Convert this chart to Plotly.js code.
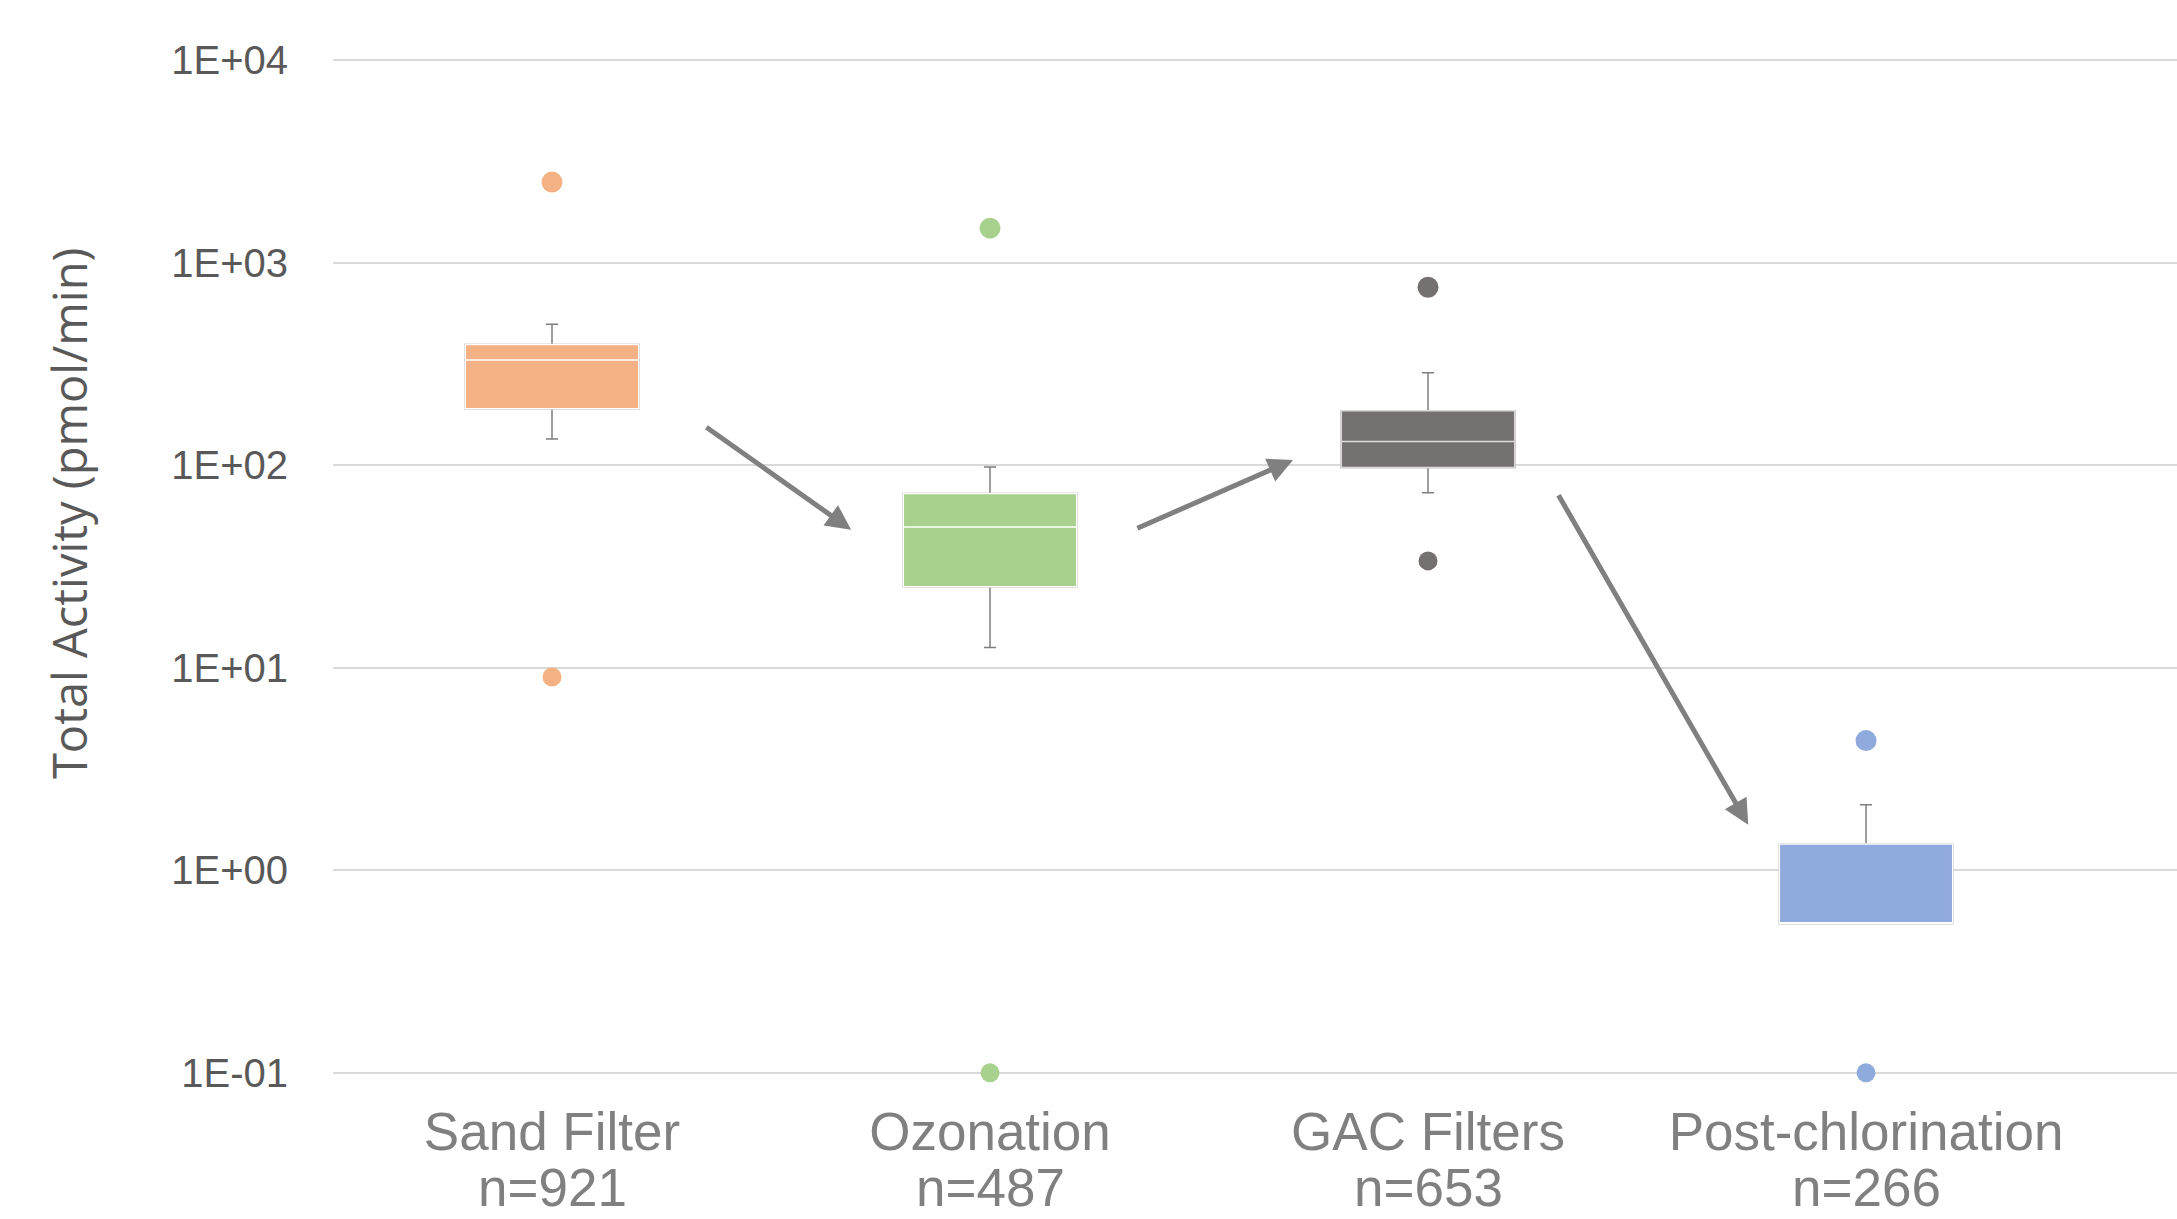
<!DOCTYPE html>
<html>
<head>
<meta charset="utf-8">
<script src="https://cdn.plot.ly/plotly-3.0.1.min.js"></script>
<style>
html,body{margin:0;padding:0;background:#ffffff;}
#chart{width:2177px;height:1219px;}
</style>
</head>
<body>
<div id="chart"></div>
<script>
// ---- data ----
const categories = ['Sand Filter', 'Ozonation', 'GAC Filters', 'Post-chlorination'];
const sampleSizes = ['n=921', 'n=487', 'n=653', 'n=266'];
const lowerWhisker = [134.6, 12.6, 73.1, 0.545];
const q1Values = [190, 25.1, 97.4, 0.545];
const medianValues = [331, 49.5, 131, 0.545];
const q3Values = [395, 72.6, 186, 1.35];
const upperWhisker = [497, 97.9, 286, 2.11];
const highOutliers = [2500, 1480, 756, 4.37];
const lowOutliers = [9.0, 0.1, 33.7, 0.1];
const yTickVals = [0.1, 1, 10, 100, 1000, 10000];
const yTickText = ['1E-01', '1E+00', '1E+01', '1E+02', '1E+03', '1E+04'];
const yTitle = 'Total Activity (pmol/min)';
// arrows between stages: [fromCategoryIndex, fromValue, toCategoryIndex, toValue]
const stageArrows = [
  [0.349, 156, 0.683, 48.0],
  [1.333, 48.5, 1.692, 106],
  [2.296, 72.3, 2.731, 1.68]
];

// ---- styles ----
const fillColors = ['#F4B183', '#A9D18E', '#767171', '#8FAADC'];
const medianColors = ['#ffffff', '#ffffff', '#d9d9d9', '#ffffff'];
const whiskerColor = '#7f7f7f';
const boxWidth = 0.396;
const catFont = {family: 'Liberation Sans, Arial, sans-serif', size: 53, color: '#808080'};

const traces = [];
categories.forEach((cat, i) => {
  // whiskers (gray)
  traces.push({
    type: 'box', x: [cat],
    q1: [q1Values[i]], median: [medianValues[i]], q3: [q3Values[i]],
    lowerfence: [lowerWhisker[i]], upperfence: [upperWhisker[i]],
    width: boxWidth, whiskerwidth: 0.07,
    fillcolor: 'rgba(0,0,0,0)',
    line: {color: whiskerColor, width: 1.5},
    boxpoints: false, hoverinfo: 'skip', showlegend: false
  });
  // filled box with light median line
  traces.push({
    type: 'box', x: [cat],
    q1: [q1Values[i]], median: [medianValues[i]], q3: [q3Values[i]],
    lowerfence: [q1Values[i]], upperfence: [q3Values[i]],
    width: boxWidth, whiskerwidth: 0,
    fillcolor: fillColors[i],
    line: {color: medianColors[i], width: 1.5},
    boxpoints: false, hoverinfo: 'skip', showlegend: false
  });
});
traces.push({
  type: 'scatter', mode: 'markers', x: categories, y: highOutliers,
  marker: {color: fillColors, size: 21}, hoverinfo: 'skip', showlegend: false
});
traces.push({
  type: 'scatter', mode: 'markers', x: categories, y: lowOutliers,
  marker: {color: fillColors, size: 19}, hoverinfo: 'skip', showlegend: false
});

const annotations = stageArrows.map(a => ({
  xref: 'x', yref: 'y', axref: 'x', ayref: 'y',
  x: a[2], y: Math.log10(a[3]), ax: a[0], ay: Math.log10(a[1]),
  text: '', showarrow: true, arrowhead: 2, arrowsize: 1, arrowwidth: 5,
  arrowcolor: '#808080', standoff: 0, startstandoff: 0
}));
// sample-size line under each category name
sampleSizes.forEach((s, i) => {
  annotations.push({
    xref: 'x', yref: 'paper', x: categories[i], y: 0,
    yanchor: 'middle', yshift: -104, showarrow: false, borderpad: 0,
    text: s, font: catFont
  });
});
// y axis title
annotations.push({
  xref: 'paper', yref: 'paper', x: 0, y: 0.5508, xshift: -264,
  xanchor: 'center', yanchor: 'middle', textangle: -90, showarrow: false,
  text: yTitle, font: {family: 'Open Sans, sans-serif', size: 47, color: '#595959'}
});

const layout = {
  width: 2177, height: 1219,
  margin: {l: 333, r: 0, t: 50, b: 136},
  paper_bgcolor: '#ffffff', plot_bgcolor: '#ffffff',
  showlegend: false,
  boxmode: 'overlay',
  xaxis: {
    type: 'category', range: [-0.5, 3.71],
    tickvals: categories, ticktext: categories,
    tickfont: catFont,
    showgrid: false, zeroline: false, showline: false, ticks: '',
    ticklabelstandoff: 13
  },
  yaxis: {
    type: 'log', range: [-1.05, 4.05],
    tickvals: yTickVals, ticktext: yTickText,
    tickfont: {family: 'Liberation Sans, Arial, sans-serif', size: 40, color: '#595959'},
    showgrid: true, gridcolor: '#d9d9d9', gridwidth: 2,
    zeroline: false, showline: false, ticks: '',
    ticklabelstandoff: 44
  },
  annotations: annotations
};

Plotly.newPlot('chart', traces, layout, {displayModeBar: false, staticPlot: true});
</script>
</body>
</html>
